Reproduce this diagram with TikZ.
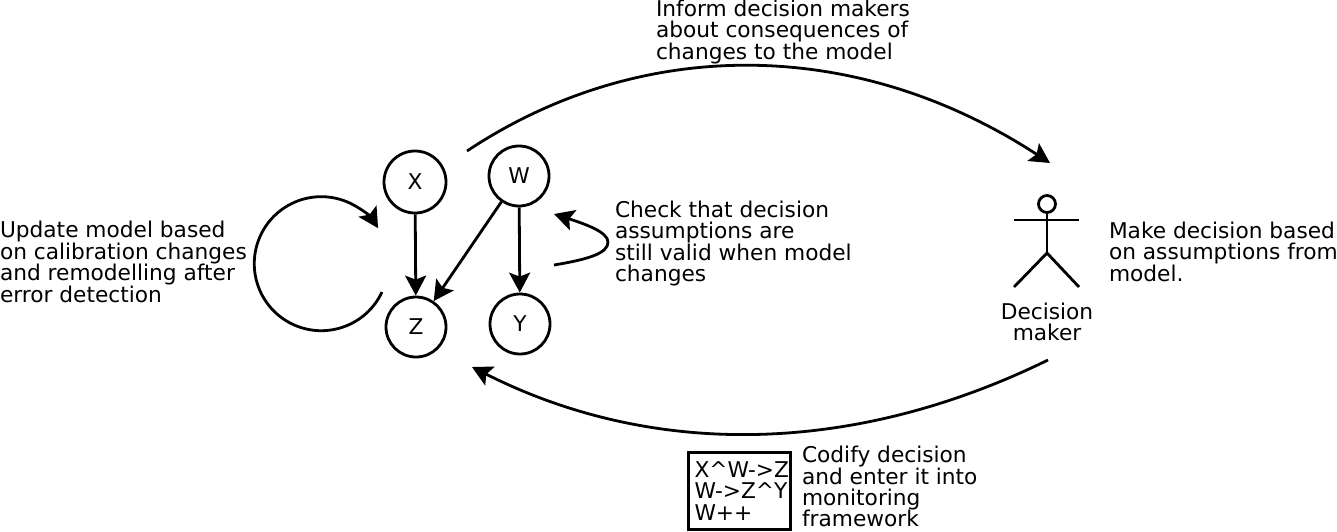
\documentclass[tikz,border=0pt]{standalone}
\usepackage{fontspec}
\setmainfont{DejaVu Sans}
\usetikzlibrary{arrows.meta}
\newcommand{\myst}{\rule{0pt}{16pt}}
\tikzset{
  lbl/.style={font=\fontsize{21.7}{21.5}\selectfont, align=left, anchor=north west, inner sep=0pt, outer sep=0pt},
  varnode/.style={circle, draw=black, line width=2.8pt, minimum size=60pt, inner sep=0pt, font=\fontsize{21.7}{21.5}\selectfont},
  lnk/.style={line width=2.8pt, black, -{Stealth[length=20pt,width=21pt,inset=4pt]}},
  limb/.style={line width=2.8pt, black}
}
\begin{document}
\begin{tikzpicture}[x=1pt,y=-1pt]
\useasboundingbox (0,0) rectangle (1337,531);
\node[varnode, minimum size=62pt] (X) at (415,182) {X};
\node[varnode] (W) at (519,176) {W};
\node[varnode] (Z) at (416,327) {Z};
\node[varnode] (Y) at (520,324) {Y};
\draw[lnk] (X) -- (Z);
\draw[lnk] (W) -- (Y);
\draw[lnk] (W) -- (Z);
% self loop of the model
\coordinate (loopa) at (382,292);
\draw[lnk] (loopa) arc[start angle=-25, end angle=-328, radius=67pt];
% assumption check
\coordinate (cka) at (554,265);
\coordinate (ckb) at (608,242);
\coordinate (ckc) at (554,214);
\draw[limb] (cka) .. controls (590,259) and (608,253) .. (ckb);
\draw[lnk] (ckb) .. controls (608,232) and (585,224) .. (ckc);
% large arcs
\coordinate (ta) at (467,151);
\coordinate (tb) at (1050,163);
\draw[lnk] (ta) .. controls (640,36) and (855,36) .. (tb);
\coordinate (ba) at (1048,360);
\coordinate (bb) at (472,367);
\draw[lnk] (ba) .. controls (850,457) and (650,457) .. (bb);
% actor
\node[circle, draw=black, line width=2.8pt, minimum size=17pt, inner sep=0pt] (head) at (1047,204) {};
\coordinate (hip) at (1047,253);
\coordinate (arml) at (1014,220);
\coordinate (armr) at (1079,220);
\coordinate (legl) at (1014,287);
\coordinate (legr) at (1079,287);
\draw[limb] (head) -- (hip);
\draw[limb] (arml) -- (armr);
\draw[limb] (legl) -- (hip) -- (legr);
\node[lbl, align=center, anchor=north] (dm) at (1047,303) {\myst Decision\\\myst maker};
% texts
\node[lbl] (t1) at (656,0) {\myst Inform decision makers\\about consequences of\\changes to the model};
\node[lbl] (t2) at (615,201) {\myst Check that decision\\assumptions are\\still valid when model\\changes};
\node[lbl] (t3) at (0,221.5) {\myst Update model based\\on calibration changes\\and remodelling after\\error detection};
\node[lbl] (t4) at (1109,222) {\myst Make decision based\\on assumptions from\\model.};
\node[lbl] (t5) at (802,446) {\myst Codify decision\\and enter it into\\monitoring\\framework};
\node[lbl, draw=black, line width=3pt, minimum width=102pt, minimum height=76.5pt] (box) at (688.5,452.5) {};
\node[lbl] (t6) at (694.5,461) {\myst X\textasciicircum W->Z\\W->Z\textasciicircum Y\\W++};
\end{tikzpicture}
\end{document}
